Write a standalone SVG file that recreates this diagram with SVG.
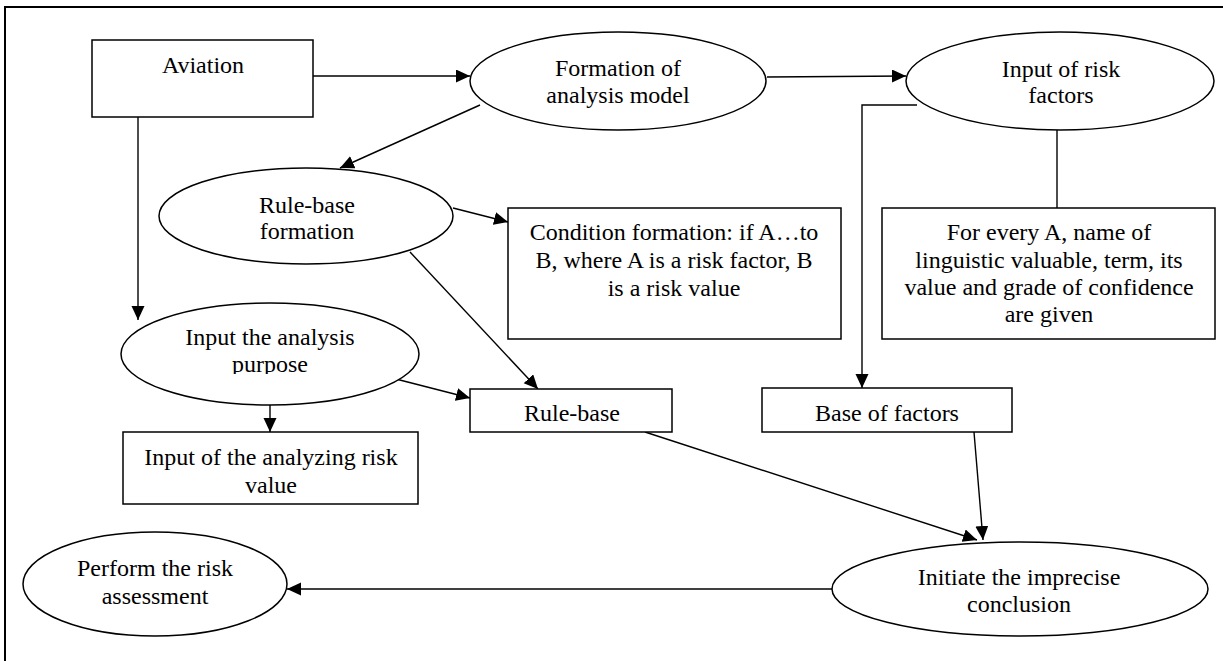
<svg xmlns="http://www.w3.org/2000/svg" width="1223" height="661" viewBox="0 0 1223 661">
  <style>
    .shape { fill: #ffffff; stroke: #000000; stroke-width: 1.5; }
    .frame { fill: none; stroke: #000000; stroke-width: 2; }
    .edge { fill: none; stroke: #000000; stroke-width: 1.4; }
    .arrow { marker-end: url(#head); }
    text { font-family: "Liberation Serif", "Times New Roman", serif; font-size: 24px; fill: #000000; text-anchor: middle; }
  </style>
  <defs>
    <marker id="head" markerUnits="userSpaceOnUse" markerWidth="15" markerHeight="14" refX="14" refY="6.5" orient="auto">
      <path d="M0,0 L14,6.5 L0,13 Z" fill="#000000"/>
    </marker>
    <clipPath id="clipPurpose"><rect x="120" y="300" width="300" height="74"/></clipPath>
    <clipPath id="clipRuleBase"><rect x="470" y="389" width="202" height="33"/></clipPath>
  </defs>

  <rect id="frame" class="frame" x="5" y="7" width="1230" height="670"/>

  <g id="connectors">
    <line class="edge arrow" x1="313" y1="76" x2="470" y2="76"/>
    <line class="edge arrow" x1="767" y1="77" x2="906" y2="76"/>
    <line class="edge arrow" x1="480" y1="105" x2="340" y2="168"/>
    <line class="edge arrow" x1="138" y1="117" x2="138" y2="320"/>
    <line class="edge arrow" x1="453" y1="208" x2="508" y2="222"/>
    <line class="edge arrow" x1="410" y1="252" x2="538" y2="389"/>
    <line class="edge arrow" x1="392" y1="378" x2="470" y2="398"/>
    <line class="edge arrow" x1="270" y1="405" x2="270" y2="432"/>
    <line class="edge" x1="1057" y1="130" x2="1057" y2="208"/>
    <polyline class="edge arrow" points="917,105 862,105 862,388"/>
    <line class="edge arrow" x1="645" y1="432" x2="977" y2="540"/>
    <line class="edge arrow" x1="974" y1="432" x2="983" y2="540"/>
    <line class="edge arrow" x1="832" y1="589" x2="287" y2="589"/>
  </g>

  <g id="aviation">
    <rect class="shape" x="92" y="40" width="221" height="77"/>
    <text x="203" y="73">Aviation</text>
  </g>

  <g id="formation-model">
    <ellipse class="shape" cx="618" cy="81" rx="148" ry="49"/>
    <text x="618" y="76">Formation of</text>
    <text x="618" y="103">analysis model</text>
  </g>

  <g id="input-risk-factors">
    <ellipse class="shape" cx="1060" cy="81" rx="154" ry="49"/>
    <text x="1061" y="77">Input of risk</text>
    <text x="1061" y="103">factors</text>
  </g>

  <g id="rule-base-formation">
    <ellipse class="shape" cx="306" cy="216" rx="147" ry="48"/>
    <text x="307" y="213">Rule-base</text>
    <text x="307" y="239">formation</text>
  </g>

  <g id="condition-formation">
    <rect class="shape" x="508" y="208" width="333" height="131"/>
    <text x="674" y="240">Condition formation: if A…to</text>
    <text x="674" y="268">B, where A is a risk factor, B</text>
    <text x="674" y="296">is a risk value</text>
  </g>

  <g id="factor-description">
    <rect class="shape" x="882" y="208" width="333" height="131"/>
    <text x="1049" y="240">For every A, name of</text>
    <text x="1049" y="268">linguistic valuable, term, its</text>
    <text x="1049" y="295">value and grade of confidence</text>
    <text x="1049" y="322">are given</text>
  </g>

  <g id="input-analysis-purpose">
    <ellipse class="shape" cx="270" cy="354" rx="149" ry="51"/>
    <text x="270" y="345">Input the analysis</text>
    <text x="270" y="372" clip-path="url(#clipPurpose)">purpose</text>
  </g>

  <g id="rule-base">
    <rect class="shape" x="470" y="389" width="202" height="43"/>
    <text x="572" y="421" clip-path="url(#clipRuleBase)">Rule-base</text>
  </g>

  <g id="base-of-factors">
    <rect class="shape" x="762" y="388" width="250" height="44"/>
    <text x="887" y="421">Base of factors</text>
  </g>

  <g id="analyzing-risk-value">
    <rect class="shape" x="123" y="432" width="295" height="72"/>
    <text x="271" y="465">Input of the analyzing risk</text>
    <text x="271" y="493">value</text>
  </g>

  <g id="risk-assessment">
    <ellipse class="shape" cx="155" cy="584" rx="132" ry="52"/>
    <text x="155" y="576">Perform the risk</text>
    <text x="155" y="604">assessment</text>
  </g>

  <g id="imprecise-conclusion">
    <ellipse class="shape" cx="1020" cy="589" rx="188" ry="47"/>
    <text x="1019" y="585">Initiate the imprecise</text>
    <text x="1019" y="612">conclusion</text>
  </g>
</svg>
